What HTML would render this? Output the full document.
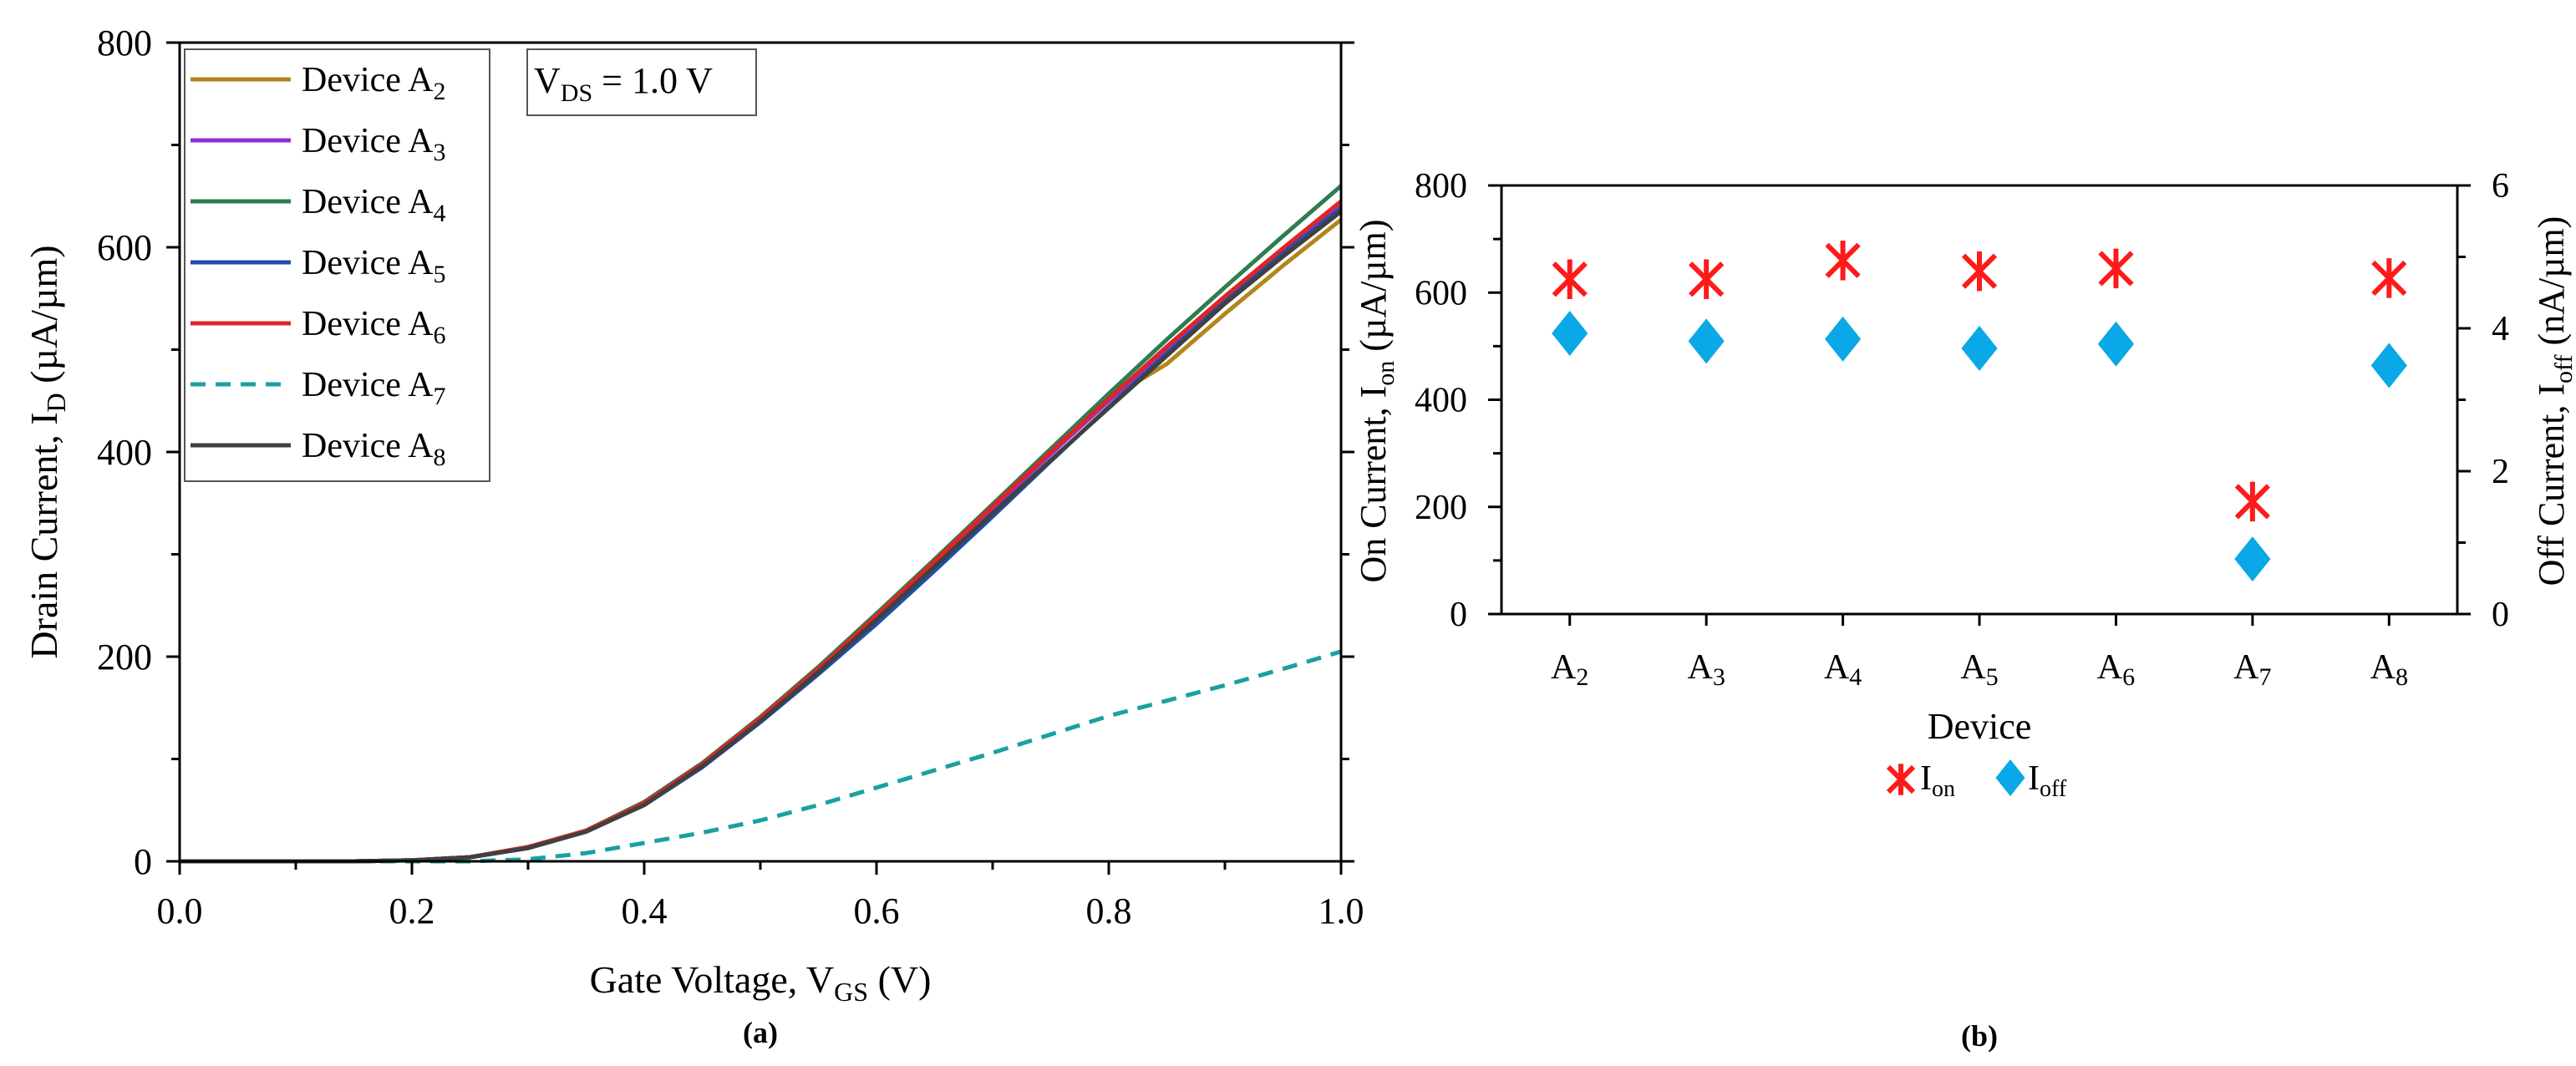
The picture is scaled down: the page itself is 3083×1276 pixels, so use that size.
<!DOCTYPE html>
<html><head><meta charset="utf-8"><style>
html,body{margin:0;padding:0;background:#fff}
svg{display:block;font-family:"Liberation Serif",serif}
</style></head><body>
<svg id="fig" width="3083" height="1276" viewBox="0 0 3083 1276" xmlns="http://www.w3.org/2000/svg">
<g id="pa"></g>
<g id="pb"></g>
</svg>
<script>
// ---------- Panel (a) data ----------
const vgs = [0,0.05,0.1,0.15,0.2,0.25,0.3,0.35,0.4,0.45,0.5,0.55,0.6,0.65,0.7,0.75,0.8,0.85,0.9,0.95,1.0];
const devA2 = [0,0,0,0,1,4,14,30,58,96,141,190,242,294,347,400,452,486,535,582,627];
const devA3 = [0,0,0,0,1,4,14,30,57,95,140,188,240,292,345,398,450,500,550,597,643];
const devA4 = [0,0,0,0,1,4,14,30,58,96,141,190,242,295,349,403,457,510,561,611,660];
const devA5 = [0,0,0,0,1,4,13,29,55,92,136,183,232,284,337,391,444,496,547,594,638];
const devA6 = [0,0,0,0,1,4,14,30,57,95,140,188,240,293,347,400,452,503,552,599,645];
const devA7 = [0,0,0,0,0,0,2,8,18,28,40,55,72,89,106,124,142,157,172,188,205];
const devA8 = [0,0,0,0,1,4,13,29,55,93,137,185,236,288,340,392,443,494,545,591,635];
const xTicksA = ["0.0","0.2","0.4","0.6","0.8","1.0"];
const yTicksA = ["0","200","400","600","800"];
// ---------- Panel (b) data ----------
const devices = ["2","3","4","5","6","7","8"];
const ionVals = [625,625,660,640,645,210,627];
const ioffVals = [3.93,3.82,3.85,3.72,3.78,0.77,3.48];
const yTicksBL = ["0","200","400","600","800"];
const yTicksBR = ["0","2","4","6"];

const NS="http://www.w3.org/2000/svg";
function mk(parent,tag,attrs,text){const e=document.createElementNS(NS,tag);for(const k in attrs)e.setAttribute(k,attrs[k]);if(text!==undefined)e.textContent=text;parent.appendChild(e);return e;}

// ===== Panel a =====
const pa=document.getElementById('pa');
const AX0=215,AX1=1605,AY0=1031,AY1=51;
const axX=v=>AX0+(v-0)/(1-0)*(AX1-AX0);
const axY=v=>AY0-(v/800)*(AY0-AY1);
const seriesA=[[devA2,"#b3861c",""],[devA3,"#9030d8",""],[devA4,"#2e7d50",""],[devA5,"#1f4fae",""],[devA6,"#e02424",""],[devA7,"#1aa0a0","18,12"],[devA8,"#404040",""]];
const names=["a2","a3","a4","a5","a6","a7","a8"];
seriesA.forEach((s,i)=>{
  const d=s[0].map((v,j)=>(j?'L':'M')+axX(vgs[j]).toFixed(1)+','+axY(v).toFixed(1)).join(' ');
  const p=mk(pa,'path',{d:d,fill:'none',stroke:s[1],'stroke-width':5,'stroke-linejoin':'round'});
  if(s[2])p.setAttribute('stroke-dasharray',s[2]);
  
  
});
const fa=mk(pa,'rect',{x:AX0,y:AY1,width:AX1-AX0,height:AY0-AY1,fill:'none',stroke:'#000','stroke-width':3});


for(let v=0;v<=800;v+=100){const y=axY(v);const L=v%200===0?16:10;
  mk(pa,'line',{x1:AX0,x2:AX0-L,y1:y,y2:y,stroke:'#000','stroke-width':3});
  mk(pa,'line',{x1:AX1,x2:AX1+L,y1:y,y2:y,stroke:'#000','stroke-width':3});}
yTicksA.forEach(t=>{const tl=mk(pa,'text',{x:182,y:axY(+t)+15,'font-size':44,'text-anchor':'end'},t);
  
  });
for(let k=0;k<=10;k++){const x=axX(k/10);const L=k%2===0?16:10;
  mk(pa,'line',{x1:x,x2:x,y1:AY0,y2:AY0+L,stroke:'#000','stroke-width':3});}
xTicksA.forEach(t=>{const tl=mk(pa,'text',{x:axX(+t),y:1105,'font-size':44,'text-anchor':'middle'},t);
  
  });
let t=mk(pa,'text',{x:0,y:0,'font-size':46,'text-anchor':'middle',transform:'translate(68,541) rotate(-90)'});
t.innerHTML='Drain Current, I<tspan font-size="32" dy="10">D</tspan><tspan dy="-10"> (µA/µm)</tspan>';


t=mk(pa,'text',{x:910,y:1188,'font-size':46,'text-anchor':'middle'});
t.innerHTML='Gate Voltage, V<tspan font-size="32" dy="10">GS</tspan><tspan dy="-10"> (V)</tspan>';


t=mk(pa,'text',{x:910,y:1248,'font-size':36,'font-weight':'bold','text-anchor':'middle'},'(a)');


const lg=mk(pa,'g',{});


mk(lg,'rect',{x:221,y:59,width:365,height:517,fill:'#fff',stroke:'#555','stroke-width':2});
seriesA.forEach((s,i)=>{const y=95+i*73;
  const ln=mk(lg,'line',{x1:228,x2:348,y1:y,y2:y,stroke:s[1],'stroke-width':5});
  if(s[2])ln.setAttribute('stroke-dasharray','18,12');
  const tx=mk(lg,'text',{x:361,y:y+14,'font-size':42});
  tx.innerHTML='Device A<tspan font-size="30" dy="10">'+names[i].slice(1)+'</tspan>';
  
  });
const vb=mk(pa,'g',{});


mk(vb,'rect',{x:631,y:59,width:274,height:79,fill:'#fff',stroke:'#555','stroke-width':2});
t=mk(vb,'text',{x:639,y:111,'font-size':44});
t.innerHTML='V<tspan font-size="30" dy="10">DS</tspan><tspan dy="-10"> = 1.0 V</tspan>';

// ===== Panel b =====
const pb=document.getElementById('pb');
const BX0=1797,BX1=2941,BY0=735,BY1=222;
const bx=i=>BX0+(i+0.5)/devices.length*(BX1-BX0);
const byL=v=>BY0-v/800*(BY0-BY1);
const byR=v=>BY0-v/6*(BY0-BY1);
const fb=mk(pb,'rect',{x:BX0,y:BY1,width:BX1-BX0,height:BY0-BY1,fill:'none',stroke:'#000','stroke-width':3});


for(let v=0;v<=800;v+=100){const y=byL(v);mk(pb,'line',{x1:BX0,x2:BX0-(v%200?10:16),y1:y,y2:y,stroke:'#000','stroke-width':3});}
for(let v=0;v<=6;v+=1){const y=byR(v);mk(pb,'line',{x1:BX1,x2:BX1+(v%2?10:16),y1:y,y2:y,stroke:'#000','stroke-width':3});}
yTicksBL.forEach(s=>{const tl=mk(pb,'text',{x:1756,y:byL(+s)+14,'font-size':42,'text-anchor':'end'},s);
  
  });
yTicksBR.forEach(s=>{const tl=mk(pb,'text',{x:2982,y:byR(+s)+14,'font-size':42},s);
  
  });
devices.forEach((d,i)=>{const x=bx(i);
  mk(pb,'line',{x1:x,x2:x,y1:BY0,y2:BY0+14,stroke:'#000','stroke-width':3});
  const tl=mk(pb,'text',{x:x,y:812,'font-size':42,'text-anchor':'middle'});
  tl.innerHTML='A<tspan font-size="30" dy="8">'+d+'</tspan>';
  
  });
function star(g,x,y,r){
  mk(g,'line',{x1:x-r,y1:y-r,x2:x+r,y2:y+r,stroke:'#ff1a1a','stroke-width':6});
  mk(g,'line',{x1:x-r,y1:y+r,x2:x+r,y2:y-r,stroke:'#ff1a1a','stroke-width':6});
  mk(g,'line',{x1:x,y1:y-r*1.25,x2:x,y2:y+r*1.25,stroke:'#ff1a1a','stroke-width':6});}
function diamond(g,x,y,r){mk(g,'polygon',{points:`${x},${y-r} ${x+r*0.8},${y} ${x},${y+r} ${x-r*0.8},${y}`,fill:'#0aa8e6'});}
ionVals.forEach((v,i)=>{const g=mk(pb,'g',{});
  
  
  star(g,bx(i),byL(v),19);});
ioffVals.forEach((v,i)=>{const g=mk(pb,'g',{});
  
  
  diamond(g,bx(i),byR(v),27);});
t=mk(pb,'text',{x:0,y:0,'font-size':44,'text-anchor':'middle',transform:'translate(1658,480) rotate(-90)'});
t.innerHTML='On Current, I<tspan font-size="30" dy="10">on</tspan><tspan dy="-10"> (µA/µm)</tspan>';


t=mk(pb,'text',{x:0,y:0,'font-size':44,'text-anchor':'middle',transform:'translate(3068,480) rotate(-90)'});
t.innerHTML='Off Current, I<tspan font-size="30" dy="10">off</tspan><tspan dy="-10"> (nA/µm)</tspan>';


t=mk(pb,'text',{x:2369,y:884,'font-size':44,'text-anchor':'middle'},'Device');


const lb=mk(pb,'g',{});


star(lb,2275,933,15);
t=mk(lb,'text',{x:2298,y:945,'font-size':42});
t.innerHTML='I<tspan font-size="28" dy="8">on</tspan>';
diamond(lb,2406,931,22);
t=mk(lb,'text',{x:2427,y:945,'font-size':42});
t.innerHTML='I<tspan font-size="28" dy="8">off</tspan>';
t=mk(pb,'text',{x:2369,y:1252,'font-size':36,'font-weight':'bold','text-anchor':'middle'},'(b)');


</script>
</body></html>
